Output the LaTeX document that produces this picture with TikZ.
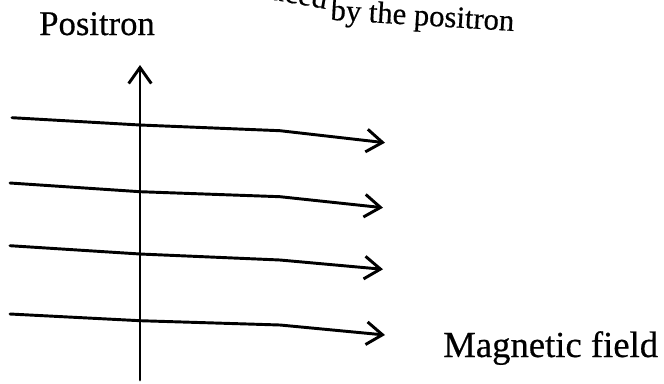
\documentclass[tikz,border=0pt]{standalone}
\usepackage{fontspec}
\setmainfont{Liberation Serif}[FakeBold=0.5]
\usetikzlibrary{arrows.meta}
\begin{document}
\begin{tikzpicture}[x=0.75pt,y=-0.75pt,
  fieldline/.style={line width=2.2pt, line join=round, line cap=round,
    -{Straight Barb[length=12pt,width=17pt,line width=2.2pt]}},
  label/.style={inner sep=0pt, anchor=base west}]
\useasboundingbox (0,0) rectangle (664,383);
\clip (0,0) rectangle (664,383);
% caption fragment (cut at top, set along a slight curve)
\node[inner sep=0pt, anchor=base east, rotate=-10, font=\fontsize{23}{27}\selectfont] (cap1) at (326,9) {uced};
\node[inner sep=0pt, anchor=base east, rotate=-3.5, font=\fontsize{23}{27}\selectfont] (cap2) at (514,31) {by the positron};
% labels
\node[label, font=\fontsize{26}{30}\selectfont] (pos) at (39,35) {Positron};
\node[label, font=\fontsize{27.5}{32}\selectfont] (mag) at (443,357) {Magnetic field};
% positron axis
\coordinate (ax0) at (140,380);
\coordinate (ax1) at (140,65);
\draw[fieldline] (ax0) -- (ax1);
% field lines
\coordinate (a1) at (12,117.7); \coordinate (b1) at (140,125); \coordinate (c1) at (280,130.7); \coordinate (d1) at (385,142.7);
\coordinate (a2) at (10,183);   \coordinate (b2) at (140,191.7); \coordinate (c2) at (280,196.7); \coordinate (d2) at (383,207.7);
\coordinate (a3) at (10,245.7); \coordinate (b3) at (140,254); \coordinate (c3) at (280,260); \coordinate (d3) at (383,269.3);
\coordinate (a4) at (10,314);   \coordinate (b4) at (140,320.7); \coordinate (c4) at (280,325); \coordinate (d4) at (385,335);
\foreach \i in {1,2,3,4}{
  \draw[fieldline] (a\i) -- (b\i) -- (c\i) -- (d\i);
}
\end{tikzpicture}
\end{document}
